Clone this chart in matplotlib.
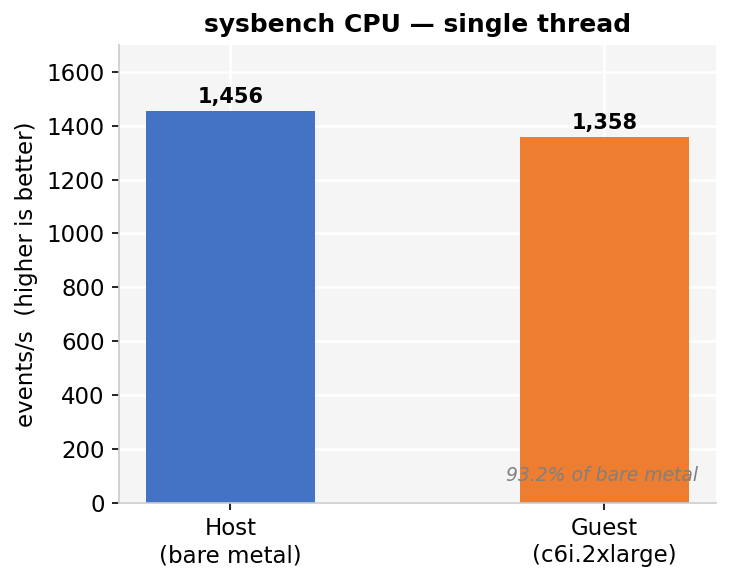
import matplotlib
matplotlib.use("Agg")
import matplotlib.pyplot as plt

labels = ["Host\n(bare metal)", "Guest\n(c6i.2xlarge)"]
values = [1456, 1358]
colors = ["#4472C4", "#ED7D31"]
note = "93.2% of bare metal"

fig, ax = plt.subplots(figsize=(7.31 / 1.5, 5.82 / 1.5), dpi=150)
fig.subplots_adjust(left=0.163, right=0.979, top=0.923, bottom=0.136)
ax.set_facecolor("#f5f5f5")
ax.grid(True, color="white", linewidth=1.2)
ax.set_axisbelow(True)

bars = ax.bar(labels, values, width=0.45, color=colors)
for b, v in zip(bars, values):
    ax.text(b.get_x() + b.get_width() / 2, v + 15, f"{v:,}",
            ha="center", va="bottom", fontsize=10, fontweight="bold")

ax.set_ylim(0, 1700)
ax.set_ylabel("events/s  (higher is better)", fontsize=11)
ax.set_title("sysbench CPU — single thread", fontsize=12, fontweight="bold")
ax.tick_params(labelsize=11)

ax.text(0.97, 0.06, note, transform=ax.transAxes,
        ha="right", va="center", fontsize=9, style="italic", color="gray")

for s in ["top", "right"]:
    ax.spines[s].set_visible(False)
for s in ["left", "bottom"]:
    ax.spines[s].set_color("#cccccc")

fig.savefig("out.png", dpi=150)
